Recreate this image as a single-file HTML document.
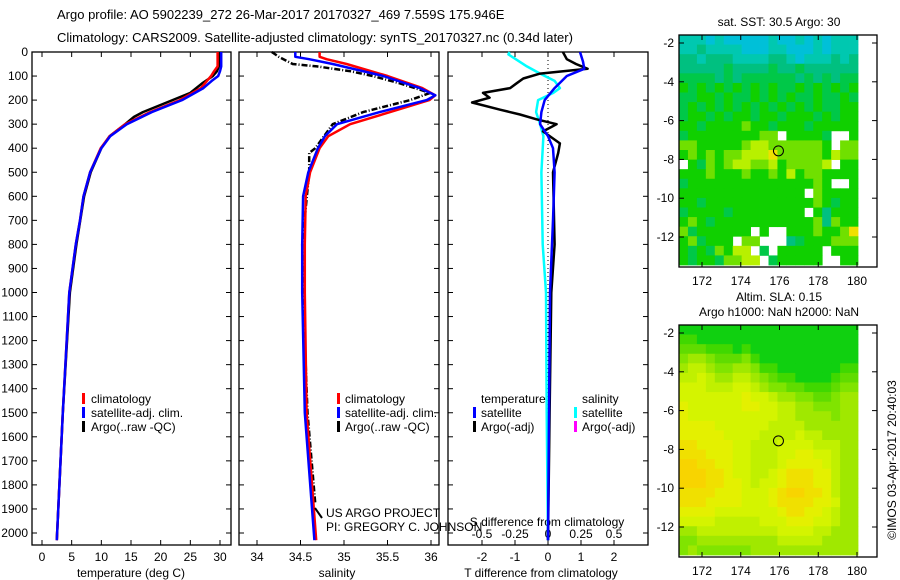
<!DOCTYPE html>
<html><head><meta charset="utf-8"><style>
body{margin:0;background:#fff;}
svg{display:block;font-family:"Liberation Sans",sans-serif;}
text{font-size:12px;fill:#000;}
</style></head><body>
<svg id="fig" width="900" height="580" viewBox="0 0 900 580">
<text x="57" y="19" style="font-size:13px">Argo profile: AO 5902239_272 26-Mar-2017 20170327_469 7.559S 175.946E</text>
<text x="57" y="42" style="font-size:13px">Climatology: CARS2009. Satellite-adjusted climatology: synTS_20170327.nc (0.34d later)</text>
<g id="g"></g>
<text transform="translate(896,460) rotate(-90)" text-anchor="middle">©IMOS 03-Apr-2017 20:40:03</text>
</svg>
<script>
// ---- profile data ----
const tDepth=[0,60,80,100,120,150,200,250,300,350,400,500,600,700,800,1000,1500,2030];
const tClim=[29.6,29.6,29.0,28.5,27.8,26.8,23.2,18.2,14.0,11.4,9.9,8.1,7.0,6.4,5.7,4.6,3.5,2.5];
const tSat=[30.2,30.2,30.0,29.7,28.6,27.2,23.6,18.5,14.3,11.5,10.0,8.1,7.0,6.4,5.7,4.6,3.5,2.5];
const argoDepth=[0,60,80,100,130,170,200,250,270,300,350,400,500,600,800,1000,1500,2030];
const tArgo=[29.8,29.8,29.5,28.8,27.0,25.0,22.0,17.0,15.5,14.0,11.4,10.0,8.2,7.1,5.8,4.7,3.5,2.5];
const sDepth=[0,20,30,50,100,150,180,200,250,300,350,400,500,600,800,1000,1500,2030];
const sClim=[34.72,34.72,34.8,35.03,35.5,35.9,36.05,35.98,35.53,35.07,34.82,34.72,34.61,34.56,34.55,34.55,34.57,34.68];
const sSat=[34.44,34.44,34.6,34.87,35.45,35.87,36.05,35.95,35.41,34.92,34.78,34.7,34.59,34.53,34.52,34.52,34.55,34.66];
const sArgoDepth=[0,20,50,60,80,100,130,170,200,250,300,400,420,500,800,1000,1500,1880];
const sArgo=[34.17,34.25,34.41,34.69,35.07,35.33,35.64,35.99,35.76,35.22,34.87,34.67,34.6,34.6,34.52,34.53,34.58,34.67];
const dDepth=[0,40,70,100,150,200,250,300,350,400,500,700,1000,1500,2030];
const dTSat=[0.97,1.06,1.1,0.57,0.2,-0.1,-0.2,-0.24,0,0.15,0.2,0.15,0.06,0.03,0];
const daDepth=[0,30,50,70,90,110,130,150,170,190,210,240,260,280,300,330,380,420,500,800,1000,1500,2030];
const dTArgo=[0.45,0.57,0.85,1.2,-0.24,-0.75,-0.95,-1.15,-1.97,-1.77,-2.3,-1.45,-0.85,-0.35,0.26,-0.15,0.36,0.31,0.15,0.2,0.1,0.05,0];
const dsDepth=[0,10,60,90,120,150,170,200,250,300,350,500,800,1000,1500,2030];
const dSSat=[-0.29,-0.3,-0.16,-0.06,0.05,0.09,0.04,-0.075,-0.09,-0.06,-0.035,-0.05,-0.04,-0.015,-0.01,0];
const depthTicks=[0,100,200,300,400,500,600,700,800,900,1000,1100,1200,1300,1400,1500,1600,1700,1800,1900,2000];
const tTicks=[0,5,10,15,20,25,30];
const sTicks=[34,34.5,35,35.5,36];
const dTTicks=[-2,-1,0,1,2];
const dSTicks=[-0.5,-0.25,0,0.25,0.5];
// ---- map data ----
const lonTicks=[172,174,176,178,180];
const latTicks=[-2,-4,-6,-8,-10,-12];
const sstGrid=[
"22212111112112121222","22322221112211121222","33233322223321222323","33333433334334333333",
"44443434444443434344","54545454545445454545","44554544545454454454","45454545454545454455",
"45545455455455545455","55455556554555455555","45555555566.55554..5","66555556776666665.66",
"56565667778666665766",".5465677667566667.55","55565556556575665555","45555555555555565..5",
"55555555555555.65555","55455555555555565455","45555455555555.53555","56545555555555563655",
"64555555.5..55565568","564555.66...34555666","54546577.4.55555.555","545546677.455555..55"];
const slaGrid=[
"00000000000000000000","11000000000000000000","22211101000000000000","34432223100000000000",
"45543344311000000011","55654455432110000122","66655566543322111233","66666667665443322344",
"76666667766554433344","76666666666554444344","77776666665555444444","77777666655556554444",
"88777766555666655544","88877766555667766544","99887766555677776544","99988766556788877544",
"99988776566788877544","88887776667899887544","88877776667888877644","77776666666788776544",
"66665555566677766544","44555555555666655444","33444444444555554444","34333333444444444444"];
const argoLon=[175.946], argoLat=[-7.559];

const NS='http://www.w3.org/2000/svg';
const G=document.getElementById('g');
function mk(tag,at,parent){const e=document.createElementNS(NS,tag);for(const k in at)e.setAttribute(k,at[k]);(parent||G).appendChild(e);return e;}
function lin(d0,d1,p0,p1){return v=>p0+(v-d0)*(p1-p0)/(d1-d0);}
const yD=lin(0,2000,52,533);

function frame(x0,x1,y0,y1,name){const r=mk('rect',{x:x0,y:y0,width:x1-x0,height:y1-y0,fill:'none',stroke:'#000','stroke-width':1.3});

}
function line(xs,ds,fx,color,w,name,dash){const pts=xs.map((v,i)=>fx(v).toFixed(1)+','+yD(ds[i]).toFixed(1)).join(' ');
const p=mk('polyline',{points:pts,fill:'none',stroke:color,'stroke-width':w,'stroke-linejoin':'round'});
if(dash)p.setAttribute('stroke-dasharray',dash);

}
function xticks(ticks,fx,y,yb,name,lab){ticks.forEach(t=>{const x=fx(t);mk('line',{x1:x,x2:x,y1:yb,y2:yb-5,stroke:'#000'});mk('line',{x1:x,x2:x,y1:52,y2:57,stroke:'#000'});
if(lab){const e=mk('text',{x:x,y:y,'text-anchor':'middle'});e.textContent=String(t);

}});}
function ytickmarks(x0,x1){depthTicks.forEach(d=>{const y=yD(d);mk('line',{x1:x0,x2:x0+5,y1:y,y2:y,stroke:'#000'});mk('line',{x1:x1,x2:x1-5,y1:y,y2:y,stroke:'#000'});});}
function txt(x,y,s,name,anchor){const e=mk('text',{x:x,y:y,'text-anchor':anchor||'start'});e.textContent=s;

return e;}
function bar(x,y,c,name){const r=mk('rect',{x:x,y:y-10,width:3,height:11,fill:c});

}

// Panel 1 temperature
const xT=lin(0,30,42,220);
frame(32,231,52,545,'temperature-panel');
ytickmarks(32,231);
depthTicks.forEach(d=>{txt(28,yD(d)+4,String(d),'depth-tick-label','end');});
xticks(tTicks,xT,561,545,'temperature-tick-label',true);
txt(131,577,'temperature (deg C)','temperature-axis-title','middle');
line(tArgo,argoDepth,xT,'#000',2.5,'temperature-argo-line');
line(tClim,tDepth,xT,'#f00',2.5,'temperature-climatology-line');
line(tSat,tDepth,xT,'#00f',2.5,'temperature-satellite-line');
bar(82,403,'#f00','legend-climatology-swatch');txt(91,403,'climatology','legend-climatology');
bar(82,417,'#00f','legend-satellite-swatch');txt(91,417,'satellite-adj. clim.','legend-satellite');
bar(82,431,'#000','legend-argo-swatch');txt(91,431,'Argo(..raw -QC)','legend-argo');

// Panel 2 salinity
const xS=lin(34,36,257,431);
frame(239,439,52,545,'salinity-panel');
ytickmarks(239,439);
xticks(sTicks,xS,561,545,'salinity-tick-label',true);
txt(337,577,'salinity','salinity-axis-title','middle');
line(sArgo,sArgoDepth,xS,'#000',2.5,'salinity-argo-line','6 2 1 2');
line(sClim,sDepth,xS,'#f00',2.5,'salinity-climatology-line');
line(sSat,sDepth,xS,'#00f',2.5,'salinity-satellite-line');
bar(337,403,'#f00','legend2-climatology-swatch');txt(345,403,'climatology','legend2-climatology');
bar(337,417,'#00f','legend2-satellite-swatch');txt(345,417,'satellite-adj. clim.','legend2-satellite');
bar(337,431,'#000','legend2-argo-swatch');txt(345,431,'Argo(..raw -QC)','legend2-argo');
mk('line',{x1:315,x2:322,y1:508,y2:518,stroke:'#000','stroke-width':2});
txt(326,517,'US ARGO PROJECT','credit-project');
txt(326,531,'PI: GREGORY C. JOHNSON','credit-pi');

// Panel 3 differences
const xDT=lin(-2,2,482,614);
const xDS=lin(-0.5,0.5,482,614);
frame(448,648,52,545,'difference-panel');
ytickmarks(448,648);
xticks(dTTicks,xDT,561,545,'t-diff-tick-label',true);
dSTicks.forEach(t=>{txt(xDS(t),538,String(t),'s-diff-tick-label','middle');});
txt(547,526,'S difference from climatology','s-diff-axis-title','middle');
txt(541,577,'T difference from climatology','t-diff-axis-title','middle');
mk('line',{x1:xDT(0),x2:xDT(0),y1:52,y2:545,stroke:'#000','stroke-dasharray':'1 3'});
line(dSSat.map(v=>v*4),dsDepth,xDT,'#0ff',2.5,'s-diff-satellite-line');
line(dTArgo,daDepth,xDT,'#000',2.5,'t-diff-argo-line');
line(dTSat,dDepth,xDT,'#00f',2.5,'t-diff-satellite-line');
txt(481,403,'temperature','legend3-temperature-header');
txt(582,403,'salinity','legend3-salinity-header');
bar(473,417,'#00f','legend3-t-satellite-swatch');txt(481,417,'satellite','legend3-t-satellite');
bar(473,431,'#000','legend3-t-argo-swatch');txt(481,431,'Argo(-adj)','legend3-t-argo');
bar(574,417,'#0ff','legend3-s-satellite-swatch');txt(582,417,'satellite','legend3-s-satellite');
bar(574,431,'#f0f','legend3-s-argo-swatch');txt(582,431,'Argo(-adj)','legend3-s-argo');

// Maps
const sstCol={'0':'#1060e0','1':'#00c0d8','2':'#00c8b0','3':'#00c080','4':'#00c848','5':'#10d000','6':'#70e000','7':'#b8f000','8':'#f0e000','9':'#f8c800'};
const slaCol={'0':'#10d010','1':'#40d800','2':'#60dc00','3':'#80e400','4':'#a0e800','5':'#c0f000','6':'#d4f400','7':'#e4f000','8':'#f0e000','9':'#f8d400'};
function map(grid,cols,y0,y1,yTop,yBot,name,title1,title2){
  const fLon=lin(172,180,702,857), fLat=lin(-2,-12,yTop,yBot);
  const x0=679,x1=877,xd=858;
  const nr=grid.length,nc=grid[0].length,cw=(xd-x0)/nc,ch=(y1-2-y0)/nr;
  grid.forEach((row,r)=>{for(let c=0;c<nc;c++){const k=row[c];if(!k||k==='.')continue;
    const rc=mk('rect',{x:(x0+c*cw).toFixed(2),y:(y0+r*ch).toFixed(2),width:(cw+0.4).toFixed(2),height:(ch+0.4).toFixed(2),fill:cols[k]});
    
    }});
  frame(x0,x1,y0,y1,name+'-frame');
  lonTicks.forEach(t=>{const x=fLon(t);mk('line',{x1:x,x2:x,y1:y1,y2:y1-5,stroke:'#000'});mk('line',{x1:x,x2:x,y1:y0,y2:y0+5,stroke:'#000'});txt(x,y1+18,String(t),name+'-lon-label','middle');});
  latTicks.forEach(t=>{const y=fLat(t);mk('line',{x1:x0,x2:x0+5,y1:y,y2:y,stroke:'#000'});mk('line',{x1:x1,x2:x1-5,y1:y,y2:y,stroke:'#000'});txt(674,y+4,String(t),name+'-lat-label','end');});
  argoLon.forEach((lo,i)=>{const c=mk('circle',{cx:fLon(lo),cy:fLat(argoLat[i]),r:5,fill:'none',stroke:'#000'});
    
    });
  if(title1)txt(779,y0-9-(title2?15:0),title1,name+'-title','middle');
  if(title2)txt(779,y0-9,title2,name+'-subtitle','middle');
}
map(sstGrid,sstCol,35,267,43,237,'sst-map','sat. SST: 30.5 Argo: 30');
map(slaGrid,slaCol,325,557,333,527,'sla-map','Altim. SLA: 0.15','Argo h1000: NaN h2000: NaN');
</script>
</body></html>
